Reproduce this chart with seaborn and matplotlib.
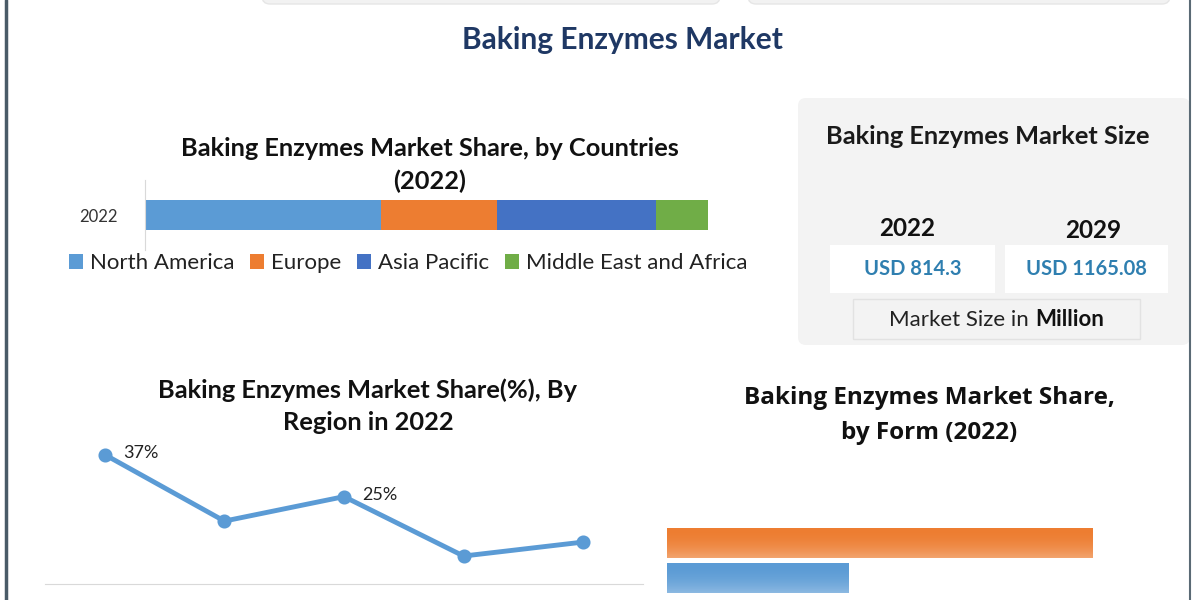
import numpy as np
import pandas as pd
import matplotlib.pyplot as plt
import seaborn as sns
from matplotlib.patches import FancyBboxPatch, Rectangle, Patch

# Share by countries (stacked bar, 2022)
countries = ['North America', 'Europe', 'Asia Pacific', 'Middle East and Africa']
country_share = [42.0, 20.6, 28.2, 9.2]
country_colors = ['#5B9BD5', '#ED7D31', '#4472C4', '#70AD47']

# Share (%) by region (line)
regions = ['North\nAmerica', 'Europe', 'Asia\nPacific', 'Middle East\nand Africa', 'South\nAmerica']
region_share = [37, 18, 25, 8, 12]
region_labels = ['37%', '', '25%', '', '']

# Share by form (bars)
forms = ['Powder', 'Liquid']
form_share = [70, 30]
form_colors = ['#ED7D31', '#5B9BD5']

# Market size
size_years = ['2022', '2029']
size_values = ['USD 814.3', 'USD 1165.08']

sns.set_style('white')
plt.rcParams['font.family'] = ['Lato', 'DejaVu Sans']

W, H = 1200, 600
fig = plt.figure(figsize=(12, 6), dpi=100)
fig.patch.set_facecolor('white')


def px(x0, y0, x1, y1):
    # pixel box (top-left origin) -> figure fraction rect
    return [x0 / W, 1 - y1 / H, (x1 - x0) / W, (y1 - y0) / H]


# background layer in pixel coordinates
bg = fig.add_axes([0, 0, 1, 1])
bg.set_xlim(0, W)
bg.set_ylim(H, 0)
bg.axis('off')

# frame lines
bg.plot([6, 6], [0, H], color='#4a5b67', lw=2.5)
bg.plot([1190, 1190], [0, H], color='#5a6a75', lw=1.5)

# cut-off boxes at the top
for x0, x1 in [(262, 720), (748, 1170)]:
    bg.add_patch(FancyBboxPatch((x0, -30), x1 - x0, 34, boxstyle='round,pad=0,rounding_size=8',
                                fc='#f2f2f2', ec='#e6e6e6', lw=1))

bg.text(622, 40, 'Baking Enzymes Market', ha='center', va='center', fontsize=21.5,
        fontweight='bold', color='#1f3864')

# market size panel
bg.add_patch(FancyBboxPatch((798, 98), 392, 247, boxstyle='round,pad=0,rounding_size=8',
                            fc='#f3f3f3', ec='none'))
bg.text(988, 137, 'Baking Enzymes Market Size', ha='center', va='center', fontsize=18.3,
        fontweight='bold', color='#1a1a1a')
for cx, ty, (bx0, bx1), yr, val in zip([907, 1093], [229, 231], [(830, 995), (1005, 1168)],
                                       size_years, size_values):
    bg.text(cx, ty, yr, ha='center', va='center', fontsize=17.5, fontweight='bold', color='#111111')
    bg.add_patch(Rectangle((bx0, 245), bx1 - bx0, 48, fc='white', ec='none'))
    bg.text((bx0 + bx1) / 2, 269, val, ha='center', va='center', fontsize=14.5,
            fontweight='bold', color='#2f7fb0')
bg.add_patch(Rectangle((853, 299), 287, 40, fc='#f3f3f3', ec='#e2e2e2', lw=1))
bg.text(1029, 320, 'Market Size in', ha='right', va='center', fontsize=16, color='#222222')
bg.text(1035, 320, 'Million', ha='left', va='center', fontsize=16, fontweight='bold', color='#111111')

# chart titles
bg.text(430, 148, 'Baking Enzymes Market Share, by Countries', ha='center', va='center',
        fontsize=18.3, fontweight='bold', color='#111111')
bg.text(430, 181, '(2022)', ha='center', va='center', fontsize=18.3, fontweight='bold', color='#111111')
bg.text(368, 390, 'Baking Enzymes Market Share(%), By', ha='center', va='center',
        fontsize=18.3, fontweight='bold', color='#111111')
bg.text(368, 423, 'Region in 2022', ha='center', va='center', fontsize=18.3,
        fontweight='bold', color='#111111')
bg.text(929, 398, 'Baking Enzymes Market Share,', ha='center', va='center', fontsize=17.5,
        fontweight='bold', color='#111111', family=['Open Sans', 'DejaVu Sans'])
bg.text(929, 433, 'by Form (2022)', ha='center', va='center', fontsize=17.5,
        fontweight='bold', color='#111111', family=['Open Sans', 'DejaVu Sans'])

# ---- stacked bar by countries
ax1 = fig.add_axes(px(145, 180, 708, 250))
ax1.set_facecolor('none')
cum = pd.Series(country_share).cumsum().tolist()
for c, col in reversed(list(zip(cum, country_colors))):
    sns.barplot(x=[c], y=['2022'], color=col, orient='h', width=0.43, saturation=1,
                linewidth=0, ax=ax1)
ax1.set_xlim(0, sum(country_share))
ax1.set_ylim(0.5, -0.5)
ax1.set_xticks([])
ax1.set_xlabel('')
ax1.set_ylabel('')
for s in ['top', 'right', 'bottom']:
    ax1.spines[s].set_visible(False)
ax1.spines['left'].set_color('#d9d9d9')
ax1.tick_params(axis='y', length=0, labelsize=12, pad=20, labelcolor='#333333')
handles = [Patch(fc=c, ec='none') for c in country_colors]
fig.legend(handles, countries, loc='center', bbox_to_anchor=(408 / W, 1 - 263 / H), ncol=4,
           frameon=False, fontsize=16, handlelength=0.65, handleheight=0.65, handletextpad=0.3,
           columnspacing=0.7, labelcolor='#222222')

# ---- line chart by region
ax2 = fig.add_axes(px(45, 440, 643, 584))
ax2.set_facecolor('none')
sns.pointplot(x=regions, y=region_share, color='#5B9BD5', markers='o', markersize=7.5,
              linewidth=3.5, ax=ax2)
ax2.set_ylim(0, 41.2)
ax2.set_xlim(-0.5, len(regions) - 0.5)
for i, (v, lab) in enumerate(zip(region_share, region_labels)):
    if lab:
        ax2.annotate(lab, (i, v), xytext=(13, 1), textcoords='offset points', ha='left',
                     va='center', fontsize=13, color='#222222')
ax2.set_yticks([])
for s in ['top', 'right', 'left']:
    ax2.spines[s].set_visible(False)
ax2.spines['bottom'].set_color('#d9d9d9')
ax2.set_xticks([i - 0.5 for i in range(len(regions) + 1)], minor=True)
ax2.tick_params(axis='x', which='minor', length=7, color='#d9d9d9', direction='out')
ax2.tick_params(axis='x', which='major', length=0, pad=12, labelsize=12, labelcolor='#666666')
ax2.set_xlabel('')
ax2.set_ylabel('')

# ---- bars by form
ax3 = fig.add_axes(px(667, 520, 1150, 600))
ax3.set_facecolor('none')
sns.barplot(x=form_share, y=forms, hue=forms, palette=form_colors, orient='h', width=0.857,
            saturation=1, linewidth=0, legend=False, ax=ax3)
ax3.set_xlim(0, 79.4)
ax3.set_ylim(1.63, -0.66)
ax3.axis('off')
# soft fade towards the lower edge of each bar
fade = np.zeros((64, 1, 4))
fade[..., :3] = 1.0
fade[:, 0, 3] = np.linspace(0, 0.55, 64) ** 2
for p in list(ax3.patches):
    x0, y0 = p.get_x(), p.get_y()
    im = ax3.imshow(fade, extent=(x0, x0 + p.get_width(), y0 + p.get_height(), y0),
                    aspect='auto', interpolation='bilinear', zorder=3)
    im.set_clip_path(p)
ax3.set_xlim(0, 79.4)
ax3.set_ylim(1.63, -0.66)

fig.savefig('out.png', dpi=100, facecolor='white')
